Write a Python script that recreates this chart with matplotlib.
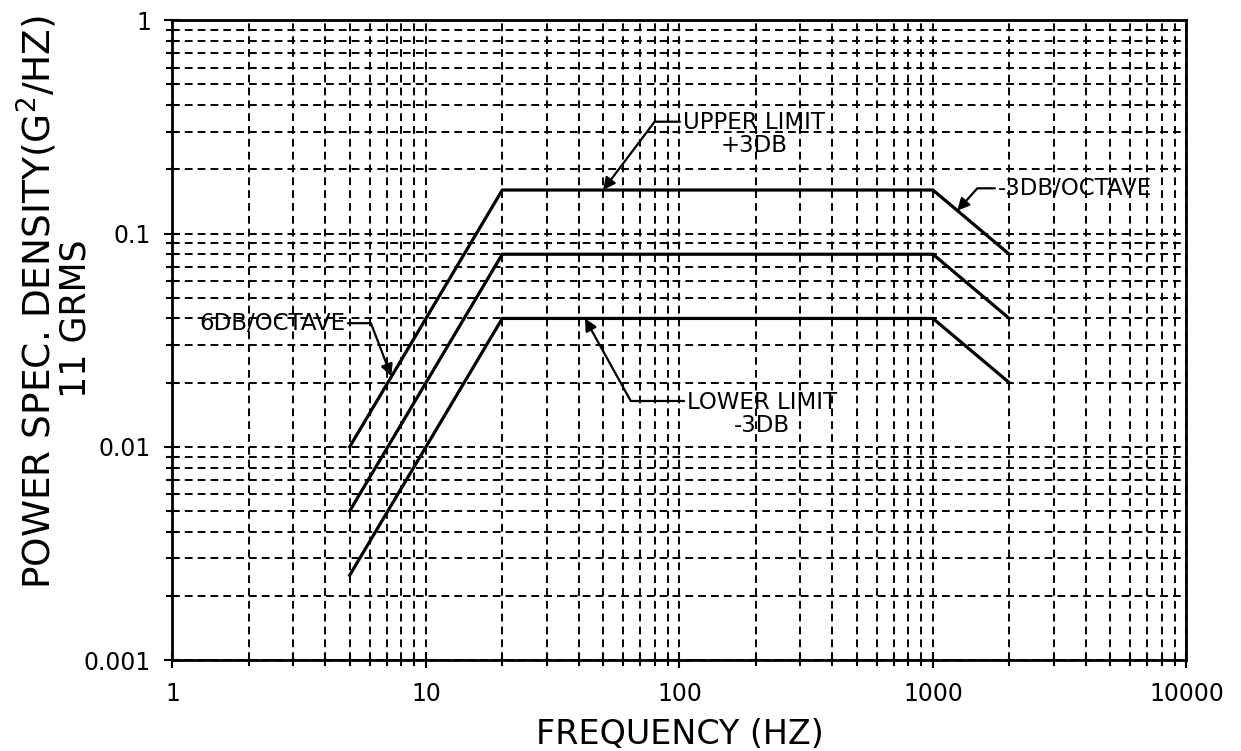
"""Random vibration test spectrum: power spectral density vs frequency (log-log)."""

import matplotlib

matplotlib.use("Agg")
import matplotlib.pyplot as plt
from matplotlib.ticker import FixedLocator, LogLocator, NullFormatter

# ====== Data ======
FREQ = [5, 20, 1000, 2000]  # Hz, breakpoints
UPPER = [0.01, 0.16, 0.16, 0.08]  # +3 dB limit
NOMINAL = [0.005, 0.08, 0.08, 0.04]  # 11 GRMS
LOWER = [0.0025, 0.04, 0.04, 0.02]  # -3 dB limit

X_TICKS = [1, 10, 100, 1000, 10000]
X_LABELS = ["1", "10", "100", "1000", "10000"]
Y_TICKS = [0.001, 0.01, 0.1, 1]
Y_LABELS = ["0.001", "0.01", "0.1", "1"]
# ==================

plt.rcParams["font.family"] = ["DejaVu Sans"]

fig = plt.figure(figsize=(12.41, 7.51), dpi=100)
ax = fig.add_axes([0.139, 0.121, 0.817, 0.852])

ax.set_xscale("log")
ax.set_yscale("log")
ax.set_xlim(1, 10000)
ax.set_ylim(0.001, 1)

for series in (UPPER, NOMINAL, LOWER):
    ax.plot(FREQ, series, color="black", lw=2.3, solid_joinstyle="miter", zorder=3)

# dashed grid on every decade subdivision
ax.xaxis.set_major_locator(FixedLocator(X_TICKS))
ax.yaxis.set_major_locator(FixedLocator(Y_TICKS))
ax.xaxis.set_minor_locator(LogLocator(base=10, subs=range(2, 10), numticks=20))
ax.yaxis.set_minor_locator(LogLocator(base=10, subs=range(2, 10), numticks=20))
ax.xaxis.set_minor_formatter(NullFormatter())
ax.yaxis.set_minor_formatter(NullFormatter())
ax.set_xticklabels(X_LABELS)
ax.set_yticklabels(Y_LABELS)
ax.grid(which="both", color="black", lw=1.4, linestyle=(0, (4, 2.6)))

ax.tick_params(which="both", direction="inout", color="black", width=1.5)
ax.tick_params(which="major", length=11, labelsize=17)
ax.tick_params(which="minor", length=9)
ax.tick_params(axis="y", which="major", pad=10)
ax.tick_params(axis="x", which="major", pad=10)
for s in ax.spines.values():
    s.set_linewidth(2.0)

ax.set_xlabel("FREQUENCY (HZ)", fontsize=24, labelpad=9)
fig.text(0.030, 0.598, "POWER SPEC. DENSITY(G$^2$/HZ)", rotation=90,
         ha="center", va="center", fontsize=27)
fig.text(0.061, 0.576, "11 GRMS", rotation=90, ha="center", va="center",
         fontsize=25)

# ===== callouts =====
arrow = dict(arrowstyle="-|>", color="black", lw=1.6, mutation_scale=18,
             shrinkA=0, shrinkB=0)
note_font = dict(fontsize=16.5, color="black")

ax.annotate("UPPER LIMIT\n+3DB", xy=(50, 0.16), xytext=(103, 0.375),
            ha="left", va="top", multialignment="center", linespacing=1.0,
            arrowprops=dict(arrow, relpos=(0, 0.77),
                            connectionstyle="angle,angleA=0,angleB=53,rad=0"),
            **note_font)
ax.annotate("-3DB/OCTAVE", xy=(1247, 0.128), xytext=(1800, 0.163),
            ha="left", va="center",
            arrowprops=dict(arrow, relpos=(0, 0.5),
                            connectionstyle="angle,angleA=0,angleB=48,rad=0"),
            **note_font)
ax.annotate("6DB/OCTAVE", xy=(7.3, 0.0214), xytext=(4.8, 0.038),
            ha="right", va="center",
            arrowprops=dict(arrow, relpos=(1, 0.5),
                            connectionstyle="angle,angleA=0,angleB=111,rad=0"),
            **note_font)
ax.annotate("LOWER LIMIT\n-3DB", xy=(42.4, 0.04), xytext=(107, 0.0183),
            ha="left", va="top", multialignment="center", linespacing=1.0,
            arrowprops=dict(arrow, relpos=(0, 0.78),
                            connectionstyle="angle,angleA=0,angleB=119,rad=0"),
            **note_font)

fig.savefig("out.png", dpi=100, facecolor="white")
